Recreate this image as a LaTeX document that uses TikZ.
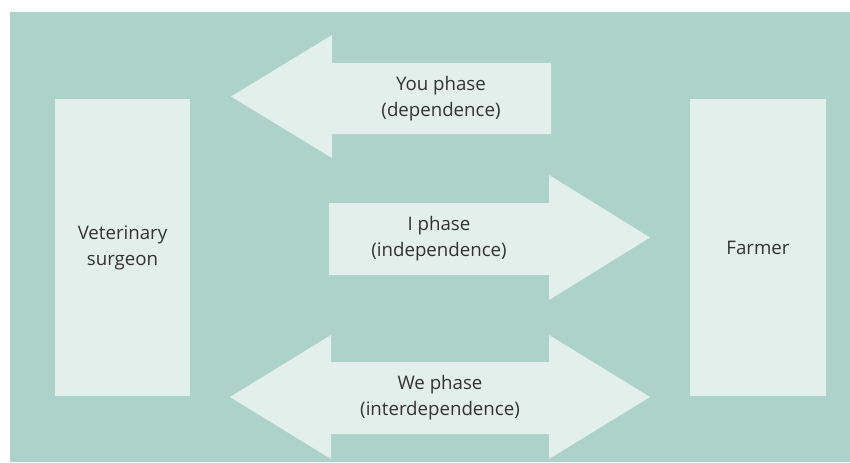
\documentclass[tikz,border=0pt]{standalone}
\usepackage{fontspec}
\setmainfont{Open Sans}
\usetikzlibrary{positioning}
\definecolor{panelteal}{RGB}{172,210,202}
\definecolor{nodemint}{RGB}{226,239,235}
\definecolor{textgray}{RGB}{51,51,51}
\tikzset{
  party/.style ={rectangle, fill=nodemint, text=textgray, align=center,
                 minimum width=101.5pt, minimum height=222.75pt, inner sep=0pt,
                 font=\fontsize{14}{19.5}\selectfont},
  phase/.style ={fill=nodemint},
  lbl/.style   ={align=center, text=textgray, inner sep=0pt,
                 font=\fontsize{14}{19.5}\selectfont}
}
\begin{document}
\begin{tikzpicture}[x=0.75pt, y=-0.75pt]
\useasboundingbox (0,0) rectangle (850,462);
\fill[panelteal] (10,12) rectangle (850,462);

\node[party] (vet) at (122.5,247.5) {Veterinary\\surgeon};
\node[party] (farmer) at (758,247.5) {Farmer};

% you phase: farmer -> vet
\fill[phase] (551,63) -- (332,63) -- (332,35) -- (231,96.5) -- (332,158)
  -- (332,134) -- (551,134) -- cycle;
% i phase: vet -> farmer
\fill[phase] (329,203) -- (549,203) -- (549,175) -- (650,237.5) -- (549,300)
  -- (549,275) -- (329,275) -- cycle;
% we phase: both ways
\fill[phase] (331,362) -- (549,362) -- (549,335) -- (650,397) -- (549,459)
  -- (549,434) -- (331,434) -- (331,459) -- (230,397) -- (331,335) -- cycle;

\node[lbl] (you) at (441,99) {You phase\\(dependence)};
\node[lbl] (iph) at (439,239) {I phase\\(independence)};
\node[lbl] (we) at (440,398) {We phase\\(interdependence)};
\end{tikzpicture}
\end{document}
